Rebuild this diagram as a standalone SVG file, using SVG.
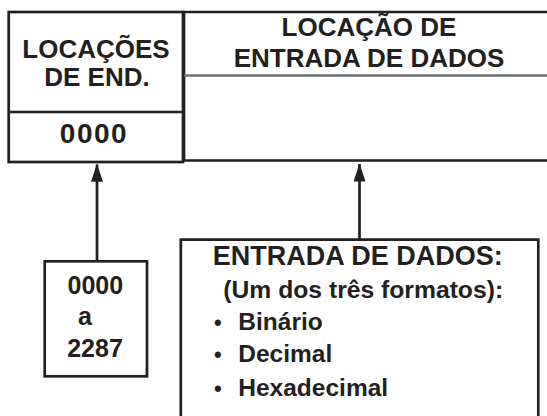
<svg xmlns="http://www.w3.org/2000/svg" width="547" height="416" viewBox="0 0 547 416">
<style>
.ln{fill:none;stroke:#231f20;stroke-width:2.7}
.t{font-family:"Liberation Sans",Arial,sans-serif;font-weight:bold;fill:#231f20}
.c{text-anchor:middle}
.b{font-size:22px}
.li{font-size:24.5px}
</style>
<defs>
<marker id="ah" markerUnits="userSpaceOnUse" markerWidth="18" markerHeight="12" refX="17.5" refY="6" orient="auto" viewBox="0 0 18 12">
<path d="M0,0 L18,6 L0,12 Z" fill="#231f20"/>
</marker>
</defs>
<rect width="547" height="416" fill="#fff"/>
<g id="end-locations">
<rect class="ln" x="8.7" y="12" width="174.3" height="150"/>
<line class="ln" x1="8.7" y1="112" x2="183" y2="112"/>
<text class="t c" x="96" y="58" font-size="26">LOCAÇÕES</text>
<text class="t c" x="97" y="86" font-size="26">DE END.</text>
<text class="t c" x="94" y="142.7" font-size="28" letter-spacing="1.5">0000</text>
</g>
<g id="data-location">
<path class="ln" d="M183,12 H547 M184,12 V160.5 M183,160.5 H547"/>
<line x1="184" y1="75.5" x2="547" y2="75.5" stroke="#6d6e71" stroke-width="2.7"/>
<text class="t c" x="369" y="35.5" font-size="26">LOCAÇÃO DE</text>
<text class="t c" x="369" y="66.7" font-size="26">ENTRADA DE DADOS</text>
</g>
<g id="range">
<rect class="ln" x="44.7" y="261.3" width="102.3" height="115"/>
<text class="t c" x="95.3" y="294" font-size="25">0000</text>
<text class="t" x="78" y="325" font-size="25">a</text>
<text class="t c" x="95" y="357.3" font-size="25">2287</text>
</g>
<g id="data-entry">
<path class="ln" d="M180.8,418 V239.7 H538.3 V418"/>
<text class="t" x="212.7" y="265" font-size="27">ENTRADA DE DADOS:</text>
<text class="t" x="223.3" y="298.3" font-size="24.7">(Um dos três formatos):</text>
<text class="t b" x="214" y="330">•</text>
<text class="t li" x="238.3" y="330">Binário</text>
<text class="t b" x="214" y="361.7">•</text>
<text class="t li" x="238.3" y="361.7">Decimal</text>
<text class="t b" x="214" y="395.7">•</text>
<text class="t li" x="238.3" y="395.7">Hexadecimal</text>
</g>
<g id="connectors">
<line class="ln" x1="97" y1="261" x2="97" y2="164.3" stroke-width="3" marker-end="url(#ah)"/>
<line class="ln" x1="359.5" y1="239.7" x2="359.5" y2="164" stroke-width="3" marker-end="url(#ah)"/>
</g>
</svg>
